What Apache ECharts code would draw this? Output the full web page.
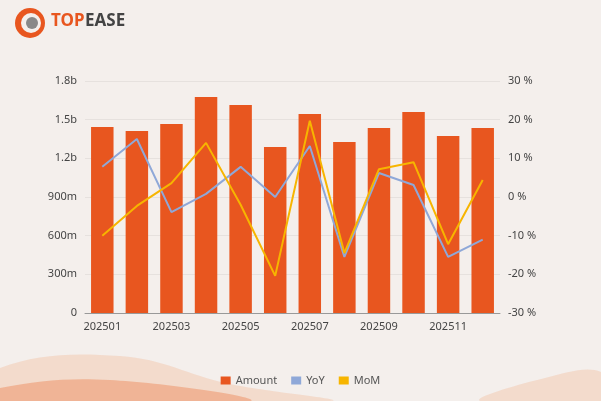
<!DOCTYPE html>
<html><head><meta charset="utf-8">
<script src="https://cdn.jsdelivr.net/npm/echarts@6/dist/echarts.min.js"></script>
<style>html,body{margin:0;padding:0;background:#f4efec}#c{width:601px;height:401px}</style>
</head><body><div id="c"></div>
<script>
const months = ['202501','202502','202503','202504','202505','202506','202507','202508','202509','202510','202511','202512'];
const amount = [1.443e9,1.412e9,1.466e9,1.676e9,1.614e9,1.288e9,1.544e9,1.327e9,1.435e9,1.559e9,1.373e9,1.435e9];
const yoy = [7.8,15,-3.9,0.8,7.8,0,13.2,-15.5,6.2,3.1,-15.5,-11];
const mom = [-10,-2.3,3.6,14,-2,-20.4,19.7,-14.5,7.2,9,-12.2,4.4];

function fmtAmt(v){
  if (v === 0) return '0';
  if (v >= 1e9) return (v/1e9).toFixed(1) + 'b';
  return (v/1e6) + 'm';
}

const chart = echarts.init(document.getElementById('c'));
chart.setOption({
  backgroundColor: '#f4efec',
  animation: false,
  textStyle: {fontFamily: 'Noto Sans'},
  grid: {left: 85, right: 101, top: 81, bottom: 88},
  legend: {
    bottom: 10, itemWidth: 10, itemHeight: 8, itemGap: 14,
    textStyle: {color: '#555', fontSize: 11},
    data: [{name:'Amount', icon:'rect'}, {name:'YoY', icon:'rect'}, {name:'MoM', icon:'rect'}]
  },
  graphic: [
    {type:'polygon', silent:true, z:-1, shape:{smooth:0.4, points:[[0,368],[120,356],[230,384],[330,401],[0,401]]}, style:{fill:'rgba(240,140,80,0.2)'}},
    {type:'polygon', silent:true, z:-1, shape:{smooth:0.4, points:[[0,388],[110,380],[250,401],[0,401]]}, style:{fill:'rgba(235,110,50,0.35)'}},
    {type:'polygon', silent:true, z:-1, shape:{smooth:0.4, points:[[480,401],[545,378],[601,372],[601,401]]}, style:{fill:'rgba(240,140,80,0.2)'}},
    {type:'circle', shape:{cx:30, cy:23, r:15}, style:{fill:'#e8561f'}},
    {type:'circle', shape:{cx:31, cy:23, r:10}, style:{fill:'#f4efec'}},
    {type:'circle', shape:{cx:32, cy:23, r:6}, style:{fill:'#888'}},
    {type:'text', x:51, y:13, style:{text:'TOP', fill:'#e8561f', font:'bold 17px Noto Sans'}},
    {type:'text', x:85, y:13, style:{text:'EASE', fill:'#444', font:'bold 17px Noto Sans'}}
  ],
  xAxis: {
    type: 'category', data: months,
    axisLine: {lineStyle: {color: '#999'}}, axisTick: {show: false},
    axisLabel: {color: '#444', fontSize: 11, interval: 1}
  },
  yAxis: [
    {type:'value', min:0, max:1.8e9, interval:3e8,
     axisLabel:{color:'#444', fontSize:11, formatter: fmtAmt},
     splitLine:{lineStyle:{color:'#e6e1de'}}},
    {type:'value', min:-30, max:30, interval:10,
     axisLabel:{color:'#444', fontSize:11, formatter: v => v + ' %'},
     splitLine:{show:false}}
  ],
  series: [
    {name:'Amount', type:'bar', data: amount, barWidth: '65%', itemStyle:{color:'#e8561f'}},
    {name:'YoY', type:'line', yAxisIndex:1, data: yoy, symbol:'none', lineStyle:{color:'#8fa8d8', width:2}, itemStyle:{color:'#8fa8d8'}},
    {name:'MoM', type:'line', yAxisIndex:1, data: mom, symbol:'none', lineStyle:{color:'#f7b500', width:2}, itemStyle:{color:'#f7b500'}}
  ]
});
</script></body></html>
